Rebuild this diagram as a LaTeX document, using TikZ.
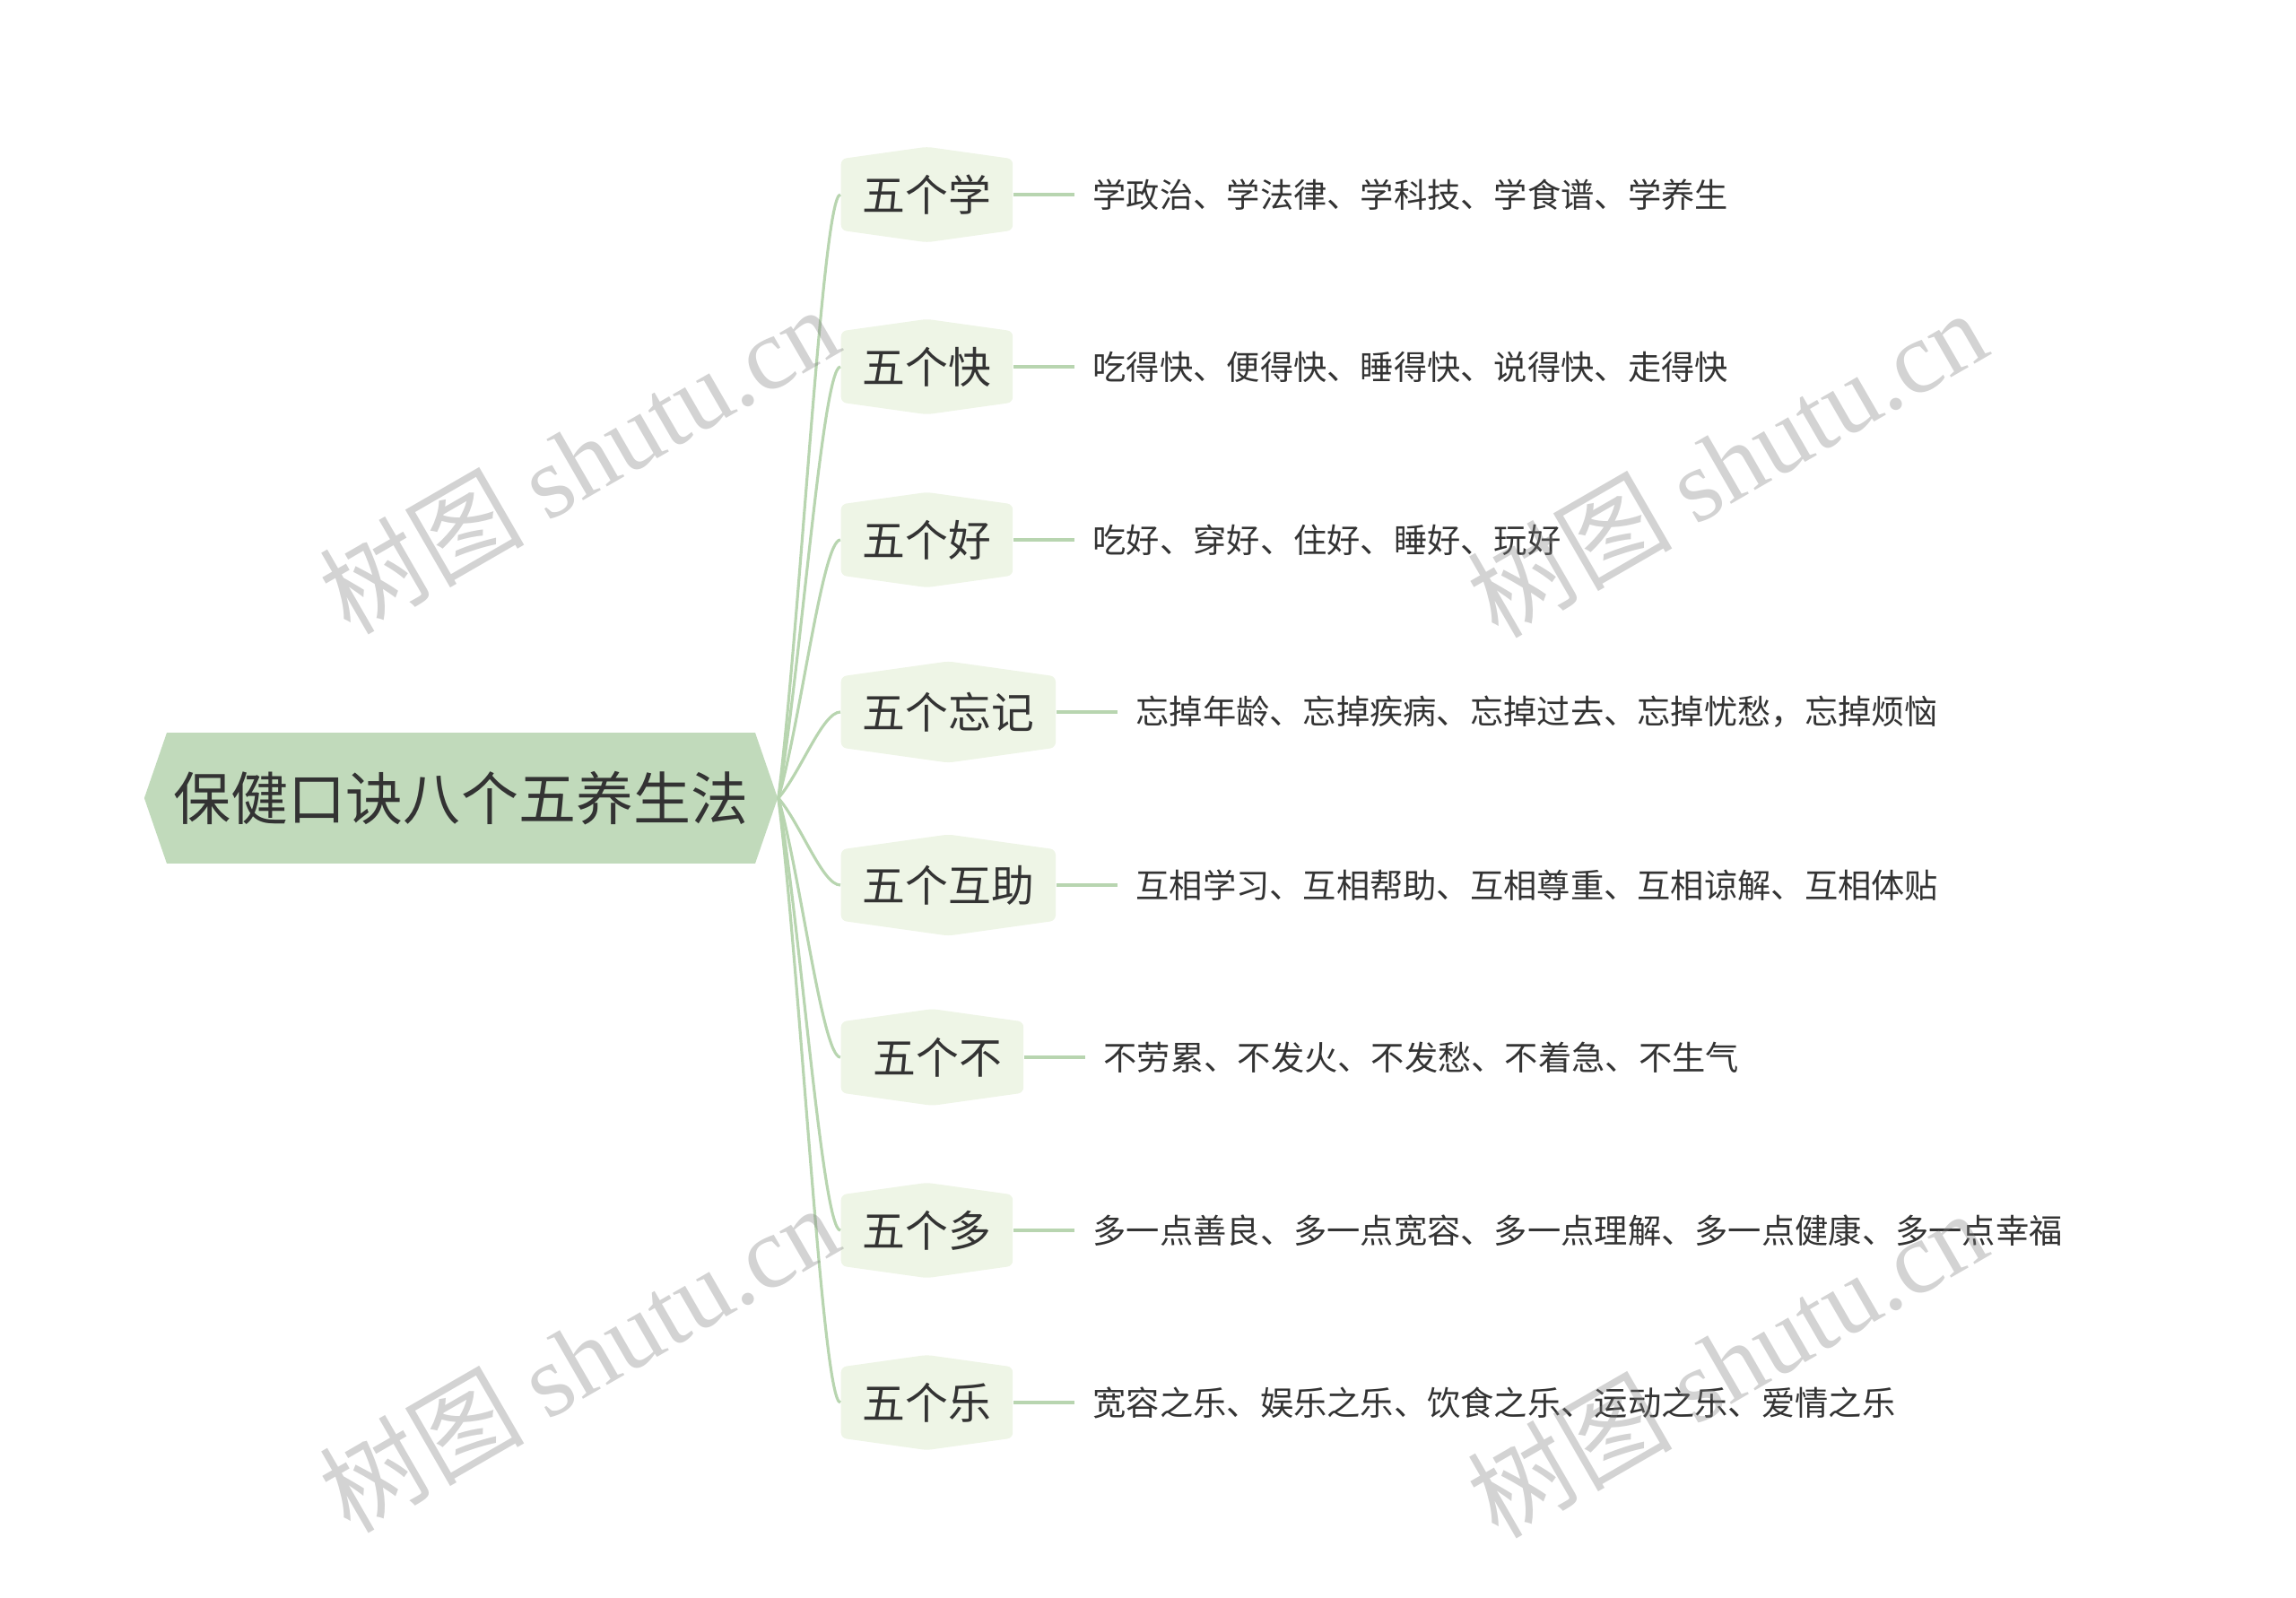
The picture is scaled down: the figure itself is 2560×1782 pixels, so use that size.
\documentclass[tikz,border=0pt]{standalone}
\usepackage{fontspec}
\setmainfont{Noto Sans CJK SC}
\newfontfamily\wmfont{Liberation Serif}
\usetikzlibrary{positioning,shapes.symbols}
\definecolor{rootgreen}{HTML}{C1DABB}
\definecolor{branchgreen}{HTML}{EEF5E6}
\definecolor{linkgreen}{HTML}{B8D5B0}
\definecolor{inkgray}{HTML}{333333}

\begin{document}
\begin{tikzpicture}[x=0.01cm,y=-0.01cm,
    topic/.style={signal, signal to=west and east, signal pointer angle=142,
      fill=rootgreen, text=inkgray, inner xsep=0.08cm, inner ysep=0.43cm,
      font=\fontsize{18.2pt}{18.2pt}\selectfont},
    branch/.style={signal, signal to=north and south, signal pointer angle=164,
      fill=branchgreen, rounded corners=0.06cm, text=inkgray,
      inner xsep=0.24cm, inner ysep=0.176cm, anchor=west,
      font=\fontsize{13.6pt}{13.6pt}\selectfont},
    leaf/.style={inner xsep=0.2cm, inner ysep=0pt, text=inkgray, anchor=west,
      font=\fontsize{10.6pt}{10.6pt}\selectfont},
    link/.style={draw=linkgreen, line width=0.9pt},
    wmark/.style={text=gray, text opacity=0.35, rotate=30,
      font=\fontsize{32.5pt}{32.5pt}\selectfont}]
  \useasboundingbox (0,0) rectangle (2560,1782);

  % central topic
  \node[topic] (root) at (514,890) {保健口诀八个五养生法};

  % main branches
  \node[branch] (xue) at (937,217) {五个学};
  \node[branch] (kuai) at (937,409) {五个快};
  \node[branch] (hao) at (937,602) {五个好};
  \node[branch] (wang) at (937,794) {五个忘记};
  \node[branch] (huzhu) at (937,987) {五个互助};
  \node[branch] (bu) at (937,1179) {\hspace{0.25em}五个不};
  \node[branch] (duo) at (937,1372) {五个多};
  \node[branch] (le) at (937,1564) {五个乐};

  % details
  \node[leaf, right=0.68cm of xue] (xuetxt) {学政治、学法律、学科技、学食谱、学养生};
  \node[leaf, right=0.68cm of kuai] (kuaitxt) {吃得快、便得快、睡得快、说得快、走得快};
  \node[leaf, right=0.68cm of hao] (haotxt) {吃好、穿好、住好、睡好、玩好};
  \node[leaf, right=0.68cm of wang] (wangtxt) {忘掉年龄、忘掉疾病、忘掉过去、忘掉忧愁，忘掉烦恼};
  \node[leaf, right=0.68cm of huzhu] (huzhutxt) {互相学习、互相帮助、互相尊重、互相谅解、互相体贴};
  \node[leaf, right=0.68cm of bu] (butxt) {不劳累、不发火、不发愁、不着急、不生气};
  \node[leaf, right=0.68cm of duo] (duotxt) {多一点善良、多一点宽容、多一点理解、多一点健康、多一点幸福};
  \node[leaf, right=0.68cm of le] (letxt) {宽容之乐、娱乐之乐、饮食之乐、运动之乐、爱情之乐};

  % curves from the centre
  \draw[link] (root.east) .. controls +(25,-202) and +(-20,0) .. (xue.west);
  \draw[link] (root.east) .. controls +(25,-144) and +(-20,0) .. (kuai.west);
  \draw[link] (root.east) .. controls +(25,-86) and +(-20,0) .. (hao.west);
  \draw[link] (root.east) .. controls +(25,-29) and +(-20,0) .. (wang.west);
  \draw[link] (root.east) .. controls +(25,29) and +(-20,0) .. (huzhu.west);
  \draw[link] (root.east) .. controls +(25,87) and +(-20,0) .. (bu.west);
  \draw[link] (root.east) .. controls +(25,145) and +(-20,0) .. (duo.west);
  \draw[link] (root.east) .. controls +(25,202) and +(-20,0) .. (le.west);

  % short connectors
  \draw[link] (xue.east) -- (xuetxt.west);
  \draw[link] (kuai.east) -- (kuaitxt.west);
  \draw[link] (hao.east) -- (haotxt.west);
  \draw[link] (wang.east) -- (wangtxt.west);
  \draw[link] (huzhu.east) -- (huzhutxt.west);
  \draw[link] (bu.east) -- (butxt.west);
  \draw[link] (duo.east) -- (duotxt.west);
  \draw[link] (le.east) -- (letxt.west);

  % watermark
  \node[wmark] (wm1) at (645,512) {树图 {\wmfont shutu.cn}};
  \node[wmark] (wm2) at (1925,516) {树图 {\wmfont shutu.cn}};
  \node[wmark] (wm3) at (645,1514) {树图 {\wmfont shutu.cn}};
  \node[wmark] (wm4) at (1925,1520) {树图 {\wmfont shutu.cn}};
\end{tikzpicture}
\end{document}
